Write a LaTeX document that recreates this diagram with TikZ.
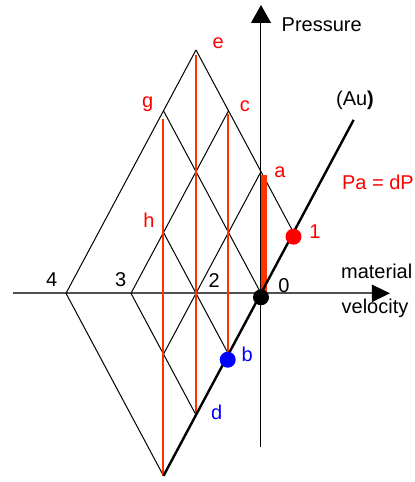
\documentclass[tikz,border=0pt]{standalone}
\usepackage{fontspec}
\setmainfont{Liberation Sans}
\usetikzlibrary{arrows.meta}
\definecolor{lred}{RGB}{255,51,0}
\definecolor{tred}{RGB}{255,0,0}
\definecolor{tblue}{RGB}{0,0,255}
\definecolor{axgray}{RGB}{80,80,80}
\begin{document}
\begin{tikzpicture}[x={(16.25pt,0)},y={(0,30.42pt)},
  font=\fontsize{10pt}{12pt}\selectfont,
  lat/.style={draw=black,line width=0.5pt},
  redline/.style={draw=lred,line width=1pt},
  hug/.style={draw=black,line width=1.2pt},
  lbl/.style={inner sep=0pt,text=black},
  rlbl/.style={inner sep=0pt,text=tred},
  blbl/.style={inner sep=0pt,text=tblue},
  dot/.style={circle,inner sep=0pt,minimum size=8pt}]
\useasboundingbox (-130.5pt,-94.35pt) rectangle (77pt,146.65pt);
% lattice points
\coordinate (O) at (0,0);
\coordinate (A) at (0,2);
\coordinate (P1) at (1,1);
\coordinate (P2) at (-2,0);
\coordinate (P3) at (-4,0);
\coordinate (P4) at (-6,0);
\coordinate (E) at (-2,4);
\coordinate (C) at (-1,3);
\coordinate (G) at (-3,3);
\coordinate (H) at (-3,1);
\coordinate (B) at (-1,-1);
\coordinate (D) at (-2,-2);
\coordinate (Bot) at (-3,-3);
\coordinate (Q) at (-3,-1);
\coordinate (AuEnd) at (2.85,2.85);
% axes
\coordinate (xl) at (-124pt,0);
\coordinate (xr) at (64.5pt,0);
\coordinate (yb) at (0,-76.85pt);
\coordinate (yt) at (0,144.15pt);
\draw[draw=axgray,line width=0.8pt,-{Triangle[length=9pt,width=8.5pt,color=black,fill=black]}] (xl) -- (xr);
\draw[draw=black,line width=0.5pt,-{Triangle[length=9pt,width=10pt]}] (yb) -- (yt);
% lattice lines
\draw[lat] (P4) -- (E);
\draw[lat] (P3) -- (C);
\draw[lat] (Q) -- (A);
\draw[lat] (E) -- (P1);
\draw[lat] (G) -- (O);
\draw[lat] (H) -- (B);
\draw[lat] (P3) -- (D);
\draw[lat] (P4) -- (Bot);
% red verticals
\coordinate (gt) at (-3,2.86);
\coordinate (et) at (-2,3.92);
\coordinate (ct) at (-1,2.95);
\coordinate (at) at ([xshift=1.5pt]0,1.94);
\coordinate (ab) at ([xshift=1.5pt]0,0);
\draw[redline] (gt) -- (Bot);
\draw[redline] (et) -- (D);
\draw[redline] (ct) -- (B);
\draw[draw=lred,line width=2.8pt] (at) -- (ab);
% Hugoniot
\draw[hug] (Bot) -- (AuEnd);
% dots
\node[dot,fill=tred] (dot1) at ([yshift=-2.1pt]P1) {};
\node[dot,fill=tblue] (dotb) at ([xshift=-0.4pt,yshift=-2.8pt]B) {};
\node[dot,fill=black] (dot0) at ([yshift=-2pt]O) {};
% labels
\node[lbl] (lp) at (30.35pt,134.15pt) {Pressure};
\node[lbl] (lau) at (47pt,96.65pt) {(Au\textbf{)}};
\node[rlbl] (lpa) at (58.5pt,55.65pt) {Pa = dP};
\node[rlbl] (la) at (9.5pt,60.3pt) {a};
\node[rlbl] (l1) at (27pt,30.8pt) {1};
\node[lbl] (lmat) at (57.85pt,10.8pt) {material};
\node[lbl] (lvel) at (57pt,-7.5pt) {velocity};
\node[lbl] (l0) at (11.5pt,3.65pt) {0};
\node[lbl] (l2) at (-23.35pt,6.3pt) {2};
\node[lbl] (l3) at (-70.15pt,6.65pt) {3};
\node[lbl] (l4) at (-104.65pt,7pt) {4};
\node[rlbl] (le) at (-21.35pt,125pt) {e};
\node[rlbl] (lg) at (-56.65pt,94.65pt) {g};
\node[rlbl] (lc) at (-8pt,93.3pt) {c};
\node[rlbl] (lh) at (-56pt,36.3pt) {h};
\node[blbl] (lb) at (-6.85pt,-30.35pt) {b};
\node[blbl] (ld) at (-22.15pt,-59.7pt) {d};
\end{tikzpicture}
\end{document}
